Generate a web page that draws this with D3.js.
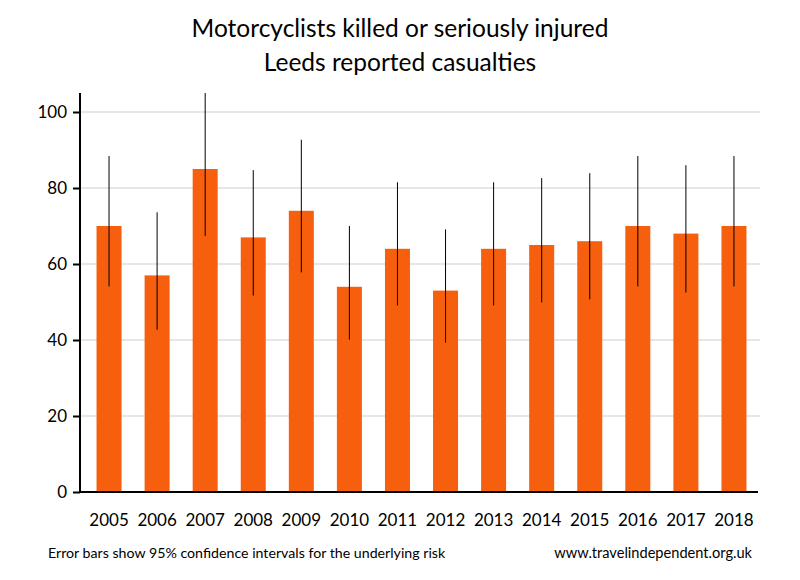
<!DOCTYPE html>
<html>
<head>
<meta charset="utf-8">
<script src="https://cdn.jsdelivr.net/npm/d3@7"></script>
<style>
  body { margin: 0; background: #fff; }
  text { font-family: Lato, "Open Sans", sans-serif; fill: #000; }
</style>
</head>
<body>
<div id="container"></div>
<script>
// Données
const years = ["2005", "2006", "2007", "2008", "2009", "2010", "2011", "2012", "2013", "2014", "2015", "2016", "2017", "2018"];
const casualties = [70, 57, 85, 67, 74, 54, 64, 53, 64, 65, 66, 70, 68, 70];
const ciLow = [54.1, 42.7, 67.4, 51.7, 57.8, 40.1, 49.1, 39.3, 49.1, 49.9, 50.7, 54.1, 52.5, 54.1];
const ciHigh = [88.4, 73.6, 112, 84.7, 92.7, 70, 81.5, 69.1, 81.5, 82.6, 83.9, 88.4, 86, 88.4];
const yTicks = [0, 20, 40, 60, 80, 100];

const width = 800;
const height = 580;

const svg = d3.select("#container")
    .append("svg")
    .attr("width", width)
    .attr("height", height);

const xScale = d3.scaleBand()
    .domain(years)
    .range([85, 758])
    .paddingInner(0.48)
    .paddingOuter(0.24);

const yScale = d3.scaleLinear()
    .domain([0, 105])
    .range([492, 93]);

// Titre
svg.append("text")
    .attr("x", 400).attr("y", 37)
    .attr("text-anchor", "middle")
    .style("font-size", "24.5px")
    .text("Motorcyclists killed or seriously injured");
svg.append("text")
    .attr("x", 400).attr("y", 71)
    .attr("text-anchor", "middle")
    .style("font-size", "24.5px")
    .text("Leeds reported casualties");

// Grille
svg.append("g")
    .selectAll("line")
    .data(yTicks.filter(d => d > 0))
    .enter()
    .append("line")
    .attr("x1", 80).attr("x2", 760)
    .attr("y1", d => yScale(d)).attr("y2", d => yScale(d))
    .attr("stroke", "#e6e6e6")
    .attr("stroke-width", 2);

// Barres
svg.selectAll(".bar")
    .data(casualties)
    .enter()
    .append("rect")
    .attr("class", "bar")
    .attr("x", (d, i) => xScale(years[i]))
    .attr("y", d => yScale(d))
    .attr("width", xScale.bandwidth())
    .attr("height", d => yScale(0) - yScale(d))
    .attr("fill", "#f55f0e");

// Barres d'erreur (coupées en haut de l'axe)
svg.append("defs").append("clipPath")
    .attr("id", "plot-clip")
    .append("rect")
    .attr("x", 80).attr("y", 93).attr("width", 680).attr("height", 400);

svg.append("g")
    .attr("clip-path", "url(#plot-clip)")
    .selectAll("line")
    .data(years)
    .enter()
    .append("line")
    .attr("x1", d => xScale(d) + xScale.bandwidth() / 2)
    .attr("x2", d => xScale(d) + xScale.bandwidth() / 2)
    .attr("y1", (d, i) => yScale(ciLow[i]))
    .attr("y2", (d, i) => yScale(ciHigh[i]))
    .attr("stroke", "#000")
    .attr("stroke-width", 1);

// Axes
const yAxis = d3.axisLeft(yScale).tickValues(yTicks).tickSize(7).tickPadding(6);
const yG = svg.append("g")
    .attr("transform", "translate(80,0)")
    .call(yAxis);
yG.select(".domain").attr("stroke-width", 2).attr("d", "M0,93V492");
yG.selectAll(".tick line").attr("stroke-width", 2);
yG.selectAll(".tick text").style("font-size", "17px");

const xAxis = d3.axisBottom(xScale).tickSize(0).tickPadding(22);
const xG = svg.append("g")
    .attr("transform", "translate(0,492)")
    .call(xAxis);
xG.select(".domain").attr("stroke-width", 2).attr("d", "M79,0H758");
xG.selectAll(".tick text").style("font-size", "17px");

// Notes de bas de page
svg.append("text")
    .attr("x", 48).attr("y", 558)
    .style("font-size", "14.2px")
    .text("Error bars show 95% confidence intervals for the underlying risk");
svg.append("text")
    .attr("x", 752).attr("y", 558)
    .attr("text-anchor", "end")
    .style("font-size", "14.6px")
    .text("www.travelindependent.org.uk");
</script>
</body>
</html>
